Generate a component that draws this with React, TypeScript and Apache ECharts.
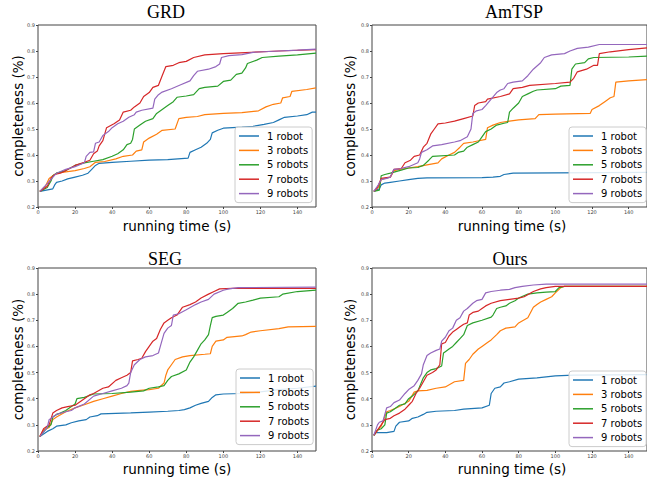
import React, { useEffect, useRef } from "react";
import * as echarts from "echarts";

const TITLES = ["GRD", "AmTSP", "SEG", "Ours"];
const SERIES_NAMES = ["1 robot", "3 robots", "5 robots", "7 robots", "9 robots"];
const COLORS = ["#1f77b4", "#ff7f0e", "#2ca02c", "#d62728", "#9467bd"];
const X_TICKS = [0, 20, 40, 60, 80, 100, 120, 140];
const Y_TICKS = [0.2, 0.3, 0.4, 0.5, 0.6, 0.7, 0.8, 0.9];

// GRD
const grd1 = [[1,0.26],[8,0.27],[9,0.285],[10,0.295],[13,0.3],[16,0.308],[20,0.315],[24,0.322],[27,0.33],[29,0.345],[31,0.36],[33,0.368],[40,0.372],[50,0.376],[60,0.38],[70,0.382],[81,0.388],[82,0.41],[85,0.42],[88,0.43],[91,0.445],[93,0.46],[94,0.485],[97,0.495],[100,0.503],[110,0.507],[116,0.51],[122,0.518],[127,0.525],[130,0.535],[133,0.545],[140,0.55],[145,0.555],[148,0.565],[150,0.565]];
const grd3 = [[1,0.26],[4,0.28],[6,0.31],[8,0.32],[10,0.33],[15,0.335],[20,0.34],[25,0.348],[28,0.355],[31,0.372],[36,0.375],[42,0.385],[46,0.395],[51,0.4],[53,0.415],[56,0.42],[57,0.45],[60,0.465],[64,0.48],[67,0.495],[74,0.5],[76,0.54],[80,0.545],[86,0.548],[90,0.555],[100,0.56],[110,0.563],[119,0.57],[123,0.585],[127,0.595],[131,0.6],[132,0.62],[136,0.625],[137,0.645],[145,0.652],[150,0.658]];
const grd5 = [[1,0.26],[5,0.275],[7,0.3],[8,0.32],[10,0.33],[15,0.34],[20,0.36],[25,0.37],[30,0.376],[35,0.382],[40,0.395],[43,0.405],[46,0.42],[48,0.44],[50,0.445],[51,0.46],[52,0.5],[55,0.515],[58,0.53],[62,0.54],[64,0.56],[67,0.575],[70,0.59],[73,0.605],[75,0.622],[80,0.627],[84,0.632],[87,0.655],[90,0.66],[97,0.665],[100,0.683],[104,0.688],[107,0.71],[110,0.715],[112,0.735],[113,0.752],[118,0.765],[121,0.775],[130,0.78],[140,0.785],[150,0.792]];
const grd7 = [[1,0.26],[5,0.28],[7,0.31],[9,0.325],[12,0.33],[15,0.34],[20,0.36],[25,0.372],[28,0.38],[30,0.405],[32,0.415],[33,0.435],[35,0.455],[36,0.48],[37,0.505],[41,0.52],[44,0.535],[46,0.565],[50,0.572],[52,0.585],[55,0.6],[57,0.625],[60,0.64],[62,0.66],[65,0.668],[67,0.705],[69,0.74],[73,0.745],[76,0.755],[80,0.76],[84,0.775],[90,0.785],[100,0.79],[115,0.795],[130,0.8],[150,0.805]];
const grd9 = [[1,0.26],[5,0.29],[10,0.33],[15,0.345],[20,0.355],[25,0.37],[26,0.395],[28,0.41],[30,0.412],[31,0.445],[33,0.45],[35,0.475],[38,0.49],[40,0.505],[43,0.52],[46,0.53],[49,0.545],[52,0.555],[53,0.565],[56,0.572],[62,0.58],[63,0.615],[65,0.632],[67,0.642],[72,0.655],[77,0.67],[82,0.685],[84,0.705],[86,0.722],[92,0.73],[96,0.74],[98,0.75],[99,0.775],[103,0.782],[110,0.786],[116,0.795],[130,0.8],[140,0.803],[150,0.807]];

// AmTSP
const amtsp1 = [[1,0.26],[4,0.27],[5,0.285],[7,0.292],[10,0.295],[15,0.3],[20,0.305],[25,0.31],[30,0.312],[60,0.313],[66,0.315],[70,0.318],[72,0.325],[77,0.33],[100,0.331],[150,0.333]];
const amtsp3 = [[1,0.26],[4,0.28],[5,0.305],[7,0.31],[10,0.315],[12,0.34],[15,0.345],[20,0.35],[25,0.355],[30,0.362],[36,0.37],[38,0.385],[42,0.4],[45,0.41],[48,0.43],[50,0.445],[55,0.45],[62,0.46],[63,0.505],[66,0.515],[70,0.525],[75,0.53],[80,0.535],[89,0.54],[91,0.555],[100,0.557],[119,0.56],[120,0.575],[124,0.59],[127,0.605],[130,0.62],[132,0.625],[133,0.68],[140,0.685],[150,0.69]];
const amtsp5 = [[1,0.26],[4,0.265],[5,0.32],[7,0.325],[10,0.33],[15,0.34],[20,0.35],[25,0.352],[28,0.36],[31,0.38],[33,0.395],[45,0.4],[47,0.41],[50,0.415],[52,0.43],[55,0.44],[58,0.45],[60,0.47],[62,0.49],[65,0.5],[68,0.515],[72,0.522],[74,0.525],[75,0.565],[77,0.58],[80,0.6],[82,0.625],[85,0.635],[88,0.645],[90,0.65],[100,0.655],[103,0.665],[108,0.668],[109,0.73],[111,0.75],[116,0.755],[118,0.77],[121,0.775],[140,0.777],[150,0.78]];
const amtsp7 = [[1,0.26],[3,0.275],[5,0.31],[10,0.315],[12,0.345],[16,0.348],[18,0.37],[21,0.38],[23,0.395],[26,0.4],[28,0.43],[30,0.445],[32,0.48],[34,0.5],[36,0.52],[40,0.523],[45,0.53],[50,0.54],[55,0.55],[56,0.59],[58,0.6],[62,0.605],[63,0.615],[70,0.625],[75,0.635],[77,0.655],[82,0.66],[86,0.668],[100,0.675],[108,0.68],[110,0.695],[112,0.72],[117,0.73],[121,0.745],[123,0.745],[124,0.79],[130,0.797],[140,0.805],[150,0.812]];
const amtsp9 = [[1,0.26],[3,0.28],[5,0.305],[8,0.31],[10,0.315],[12,0.345],[15,0.347],[20,0.355],[25,0.37],[26,0.385],[27,0.41],[30,0.42],[33,0.435],[38,0.44],[45,0.45],[48,0.455],[52,0.47],[54,0.5],[55,0.56],[57,0.57],[60,0.575],[62,0.59],[65,0.615],[68,0.64],[70,0.65],[72,0.655],[74,0.675],[77,0.68],[82,0.685],[85,0.705],[88,0.73],[92,0.755],[94,0.775],[98,0.785],[105,0.79],[108,0.8],[112,0.81],[118,0.815],[124,0.825],[150,0.825]];

// SEG
const seg1 = [[1,0.255],[3,0.265],[5,0.275],[8,0.285],[10,0.295],[15,0.3],[18,0.308],[22,0.315],[26,0.32],[28,0.33],[32,0.335],[34,0.342],[50,0.346],[60,0.349],[70,0.352],[76,0.355],[79,0.358],[82,0.365],[85,0.375],[88,0.382],[92,0.39],[94,0.405],[96,0.415],[100,0.418],[110,0.42],[120,0.426],[130,0.435],[140,0.44],[150,0.448]];
const seg3 = [[1,0.255],[3,0.28],[6,0.29],[8,0.32],[10,0.33],[15,0.35],[20,0.365],[25,0.377],[30,0.39],[35,0.4],[40,0.41],[45,0.42],[50,0.428],[55,0.432],[60,0.435],[65,0.44],[68,0.46],[69,0.49],[70,0.51],[72,0.53],[74,0.55],[78,0.56],[82,0.565],[90,0.57],[93,0.572],[94,0.6],[96,0.62],[100,0.625],[102,0.635],[110,0.64],[112,0.645],[115,0.655],[120,0.66],[130,0.668],[135,0.675],[150,0.677]];
const seg5 = [[1,0.255],[5,0.29],[7,0.3],[8,0.33],[10,0.34],[12,0.345],[15,0.355],[18,0.37],[20,0.38],[21,0.4],[25,0.405],[30,0.418],[40,0.42],[50,0.425],[57,0.43],[60,0.44],[65,0.445],[68,0.45],[70,0.47],[72,0.485],[76,0.495],[80,0.51],[82,0.54],[84,0.56],[86,0.585],[88,0.61],[90,0.625],[92,0.645],[93,0.68],[94,0.71],[96,0.715],[100,0.72],[102,0.73],[105,0.745],[108,0.765],[112,0.77],[116,0.777],[120,0.785],[130,0.79],[132,0.8],[140,0.81],[150,0.815]];
const seg7 = [[1,0.255],[3,0.285],[6,0.3],[8,0.345],[10,0.355],[13,0.365],[16,0.37],[20,0.375],[25,0.4],[28,0.415],[30,0.42],[35,0.44],[38,0.445],[42,0.47],[45,0.48],[48,0.49],[50,0.5],[51,0.545],[54,0.55],[56,0.555],[58,0.58],[60,0.6],[62,0.62],[64,0.63],[66,0.665],[68,0.69],[70,0.7],[72,0.71],[75,0.72],[78,0.75],[82,0.76],[85,0.77],[88,0.785],[92,0.8],[95,0.81],[98,0.82],[105,0.822],[150,0.822]];
const seg9 = [[1,0.255],[5,0.29],[6,0.32],[8,0.33],[10,0.34],[15,0.35],[18,0.355],[20,0.365],[25,0.38],[30,0.41],[35,0.42],[40,0.43],[45,0.44],[48,0.45],[49,0.46],[50,0.5],[52,0.53],[55,0.55],[58,0.56],[62,0.565],[65,0.575],[66,0.6],[68,0.65],[70,0.67],[72,0.68],[73,0.72],[76,0.725],[80,0.74],[85,0.76],[88,0.77],[92,0.78],[95,0.8],[100,0.815],[103,0.82],[108,0.825],[150,0.827]];

// Ours
const ours1 = [[1,0.26],[2,0.27],[8,0.27],[12,0.275],[13,0.295],[15,0.31],[20,0.315],[22,0.325],[25,0.33],[28,0.34],[30,0.348],[35,0.352],[45,0.355],[50,0.36],[60,0.365],[64,0.375],[65,0.42],[67,0.44],[70,0.445],[72,0.46],[75,0.465],[80,0.475],[90,0.48],[100,0.487],[110,0.49],[150,0.492]];
const ours3 = [[1,0.26],[3,0.28],[5,0.295],[8,0.35],[10,0.355],[15,0.37],[20,0.39],[23,0.425],[25,0.43],[30,0.432],[35,0.44],[40,0.445],[45,0.465],[50,0.47],[51,0.535],[53,0.55],[55,0.57],[58,0.59],[60,0.6],[63,0.615],[65,0.625],[68,0.645],[70,0.66],[73,0.67],[78,0.675],[80,0.69],[85,0.71],[88,0.75],[90,0.76],[92,0.77],[95,0.78],[98,0.79],[100,0.805],[103,0.825],[105,0.83],[150,0.83]];
const ours5 = [[1,0.26],[3,0.28],[5,0.285],[7,0.3],[8,0.345],[10,0.35],[12,0.36],[15,0.375],[18,0.38],[20,0.4],[22,0.41],[25,0.43],[28,0.48],[30,0.5],[32,0.51],[35,0.515],[38,0.525],[39,0.575],[40,0.58],[42,0.59],[44,0.6],[46,0.615],[48,0.63],[50,0.645],[52,0.68],[55,0.69],[60,0.7],[65,0.712],[66,0.72],[68,0.745],[70,0.75],[73,0.755],[75,0.765],[78,0.775],[80,0.785],[85,0.8],[90,0.805],[95,0.808],[100,0.81],[102,0.825],[105,0.83],[150,0.83]];
const ours7 = [[1,0.26],[3,0.28],[5,0.3],[7,0.32],[10,0.325],[12,0.335],[15,0.345],[18,0.36],[20,0.375],[22,0.39],[24,0.42],[26,0.44],[28,0.465],[30,0.49],[33,0.5],[35,0.51],[37,0.53],[38,0.61],[40,0.615],[42,0.64],[44,0.655],[46,0.665],[48,0.675],[50,0.685],[52,0.69],[53,0.72],[55,0.73],[58,0.735],[60,0.745],[62,0.755],[65,0.765],[70,0.775],[75,0.78],[80,0.785],[83,0.79],[88,0.81],[92,0.82],[95,0.825],[100,0.83],[150,0.83]];
const ours9 = [[1,0.26],[3,0.3],[4,0.31],[6,0.315],[8,0.365],[10,0.37],[12,0.385],[15,0.395],[18,0.42],[20,0.435],[23,0.45],[25,0.47],[27,0.495],[28,0.53],[30,0.565],[32,0.575],[35,0.585],[37,0.59],[38,0.62],[40,0.635],[42,0.66],[44,0.67],[46,0.7],[48,0.71],[50,0.735],[52,0.745],[55,0.765],[57,0.775],[60,0.78],[62,0.805],[65,0.81],[70,0.815],[75,0.818],[78,0.825],[82,0.83],[88,0.835],[95,0.838],[150,0.838]];

const PANELS = [
  [grd1, grd3, grd5, grd7, grd9],
  [amtsp1, amtsp3, amtsp5, amtsp7, amtsp9],
  [seg1, seg3, seg5, seg7, seg9],
  [ours1, ours3, ours5, ours7, ours9],
];

const GRIDS = [
  { left: 38, top: 25, width: 278, height: 182 },
  { left: 372, top: 25, width: 280, height: 182 },
  { left: 38, top: 268, width: 278, height: 183 },
  { left: 372, top: 268, width: 280, height: 183 },
];
const TITLE_POS = [
  [166, 12],
  [514, 12],
  [165, 259],
  [510, 259],
];
const LEGEND_POS = [
  [235, 127],
  [569, 127],
  [236, 369],
  [569, 371],
];

const SANS = "DejaVu Sans";

export default function App() {
  const ref = useRef<HTMLDivElement>(null);
  useEffect(() => {
    if (!ref.current) return;
    const chart = echarts.init(ref.current, undefined, { renderer: "svg" });
    const xAxis: any[] = [];
    const yAxis: any[] = [];
    const series: any[] = [];
    const legend: any[] = [];
    const graphic: any[] = [];
    const grid = GRIDS.map((g) => ({
      ...g,
      show: true,
      borderColor: "#444",
      borderWidth: 1,
      backgroundColor: "transparent",
      containLabel: false,
    }));
    PANELS.forEach((panel, i) => {
      xAxis.push({
        type: "value",
        gridIndex: i,
        min: 0,
        max: 150,
        axisLine: { show: false },
        axisTick: { show: true, length: 2, lineStyle: { color: "#444" }, customValues: X_TICKS },
        axisLabel: { fontSize: 5, fontFamily: SANS, color: "#444", margin: 2, customValues: X_TICKS },
        splitLine: { show: false },
      });
      yAxis.push({
        type: "value",
        gridIndex: i,
        min: 0.2,
        max: 0.9,
        interval: 0.1,
        axisLine: { show: false },
        axisTick: { show: true, length: 2, lineStyle: { color: "#444" }, customValues: Y_TICKS },
        axisLabel: {
          fontSize: 5,
          fontFamily: SANS,
          color: "#444",
          margin: 3,
          customValues: Y_TICKS,
          formatter: (v: number) => v.toFixed(1),
        },
        splitLine: { show: false },
      });
      panel.forEach((data, k) => {
        series.push({
          type: "line",
          name: SERIES_NAMES[k],
          xAxisIndex: i,
          yAxisIndex: i,
          data,
          symbol: "none",
          showSymbol: false,
          clip: true,
          lineStyle: { color: COLORS[k], width: 1.2 },
          itemStyle: { color: COLORS[k] },
          z: 2 + k,
        });
      });
      legend.push({
        data: SERIES_NAMES.map((n) => ({ name: n, icon: "path://M0,0H40V3H0Z" })),
        orient: "vertical",
        left: LEGEND_POS[i][0],
        top: LEGEND_POS[i][1],
        itemWidth: 20,
        itemHeight: 10,
        itemGap: 4.4,
        symbolKeepAspect: true,
        padding: [4, 4, 4, 4],
        backgroundColor: "rgba(255,255,255,0.85)",
        borderColor: "#cccccc",
        borderWidth: 1,
        borderRadius: 3,
        selectedMode: false,
        textStyle: { fontSize: 10, fontFamily: SANS, color: "#000", padding: [0, 0, 0, 3] },
      });
      const g = GRIDS[i];
      graphic.push({
        type: "text",
        x: TITLE_POS[i][0],
        y: TITLE_POS[i][1],
        style: {
          text: TITLES[i],
          fontSize: 18,
          fontFamily: "Liberation Serif",
          fill: "#000",
          align: "center",
          verticalAlign: "middle",
        },
      });
      graphic.push({
        type: "text",
        x: i % 2 === 0 ? 18 : 350,
        y: g.top + g.height / 2,
        rotation: Math.PI / 2,
        style: {
          text: "completeness (%)",
          fontSize: 13.5,
          fontFamily: SANS,
          fill: "#000",
          align: "center",
          verticalAlign: "middle",
        },
      });
      graphic.push({
        type: "text",
        x: i % 2 === 0 ? 177 : 512,
        y: i < 2 ? 226 : 469,
        style: {
          text: "running time (s)",
          fontSize: 13.5,
          fontFamily: SANS,
          fill: "#000",
          align: "center",
          verticalAlign: "middle",
        },
      });
    });
    chart.setOption({
      animation: false,
      backgroundColor: "#fff",
      grid,
      xAxis,
      yAxis,
      series,
      legend,
      graphic,
    });
    return () => chart.dispose();
  }, []);
  return (
    <div
      ref={ref}
      style={{ position: "fixed", left: 0, top: 0, width: 647, height: 480, background: "#fff" }}
    />
  );
}
